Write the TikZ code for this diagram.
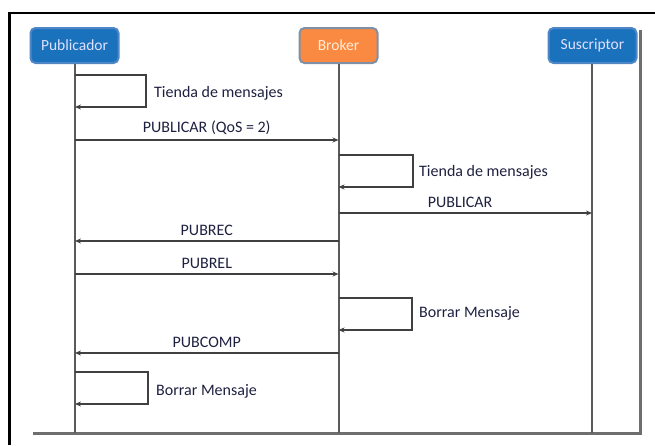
\documentclass[tikz,border=0pt]{standalone}
\usepackage{fontspec}
\setmainfont{Carlito}
\usetikzlibrary{arrows.meta}
\definecolor{bluefill}{HTML}{1B72BC}
\definecolor{blueedge}{HTML}{4F86C6}
\definecolor{orfill}{HTML}{FA8A42}
\definecolor{oredge}{HTML}{7F8FA6}
\definecolor{lblcol}{HTML}{1E2040}
\definecolor{lifecol}{HTML}{5A5A5A}
\definecolor{framegray}{HTML}{6E6E6E}
\tikzset{
  actor/.style={draw, line width=2pt, rounded corners=5pt, minimum width=88pt, minimum height=35pt, inner sep=2pt, font=\fontsize{15.5}{17}\selectfont},
  pubbox/.style={actor, fill=bluefill, draw=blueedge, text=white!88!blue},
  brokbox/.style={actor, fill=orfill, draw=oredge, minimum width=78pt, text=white!85!orange},
  lifeline/.style={draw=lifecol, line width=2pt},
  msg/.style={draw=black!75, line width=1.5pt, -{Stealth[length=6pt,width=5pt]}},
  lbl/.style={text=lblcol, font=\fontsize{16}{18}\selectfont, inner sep=1pt},
}
\begin{document}
\begin{tikzpicture}[x=1pt,y=-1pt]
\useasboundingbox (0,0) rectangle (655,445);
% outer frame
\draw[line width=2.5pt, black] (9.5,445) -- (9.5,13) -- (655,13);
% inner gray frame
\draw[framegray, line width=3pt] (33,433) -- (640,433) -- (640,30);
% actors
\node[pubbox] (pub) at (74.5,45.5) {Publicador};
\node[brokbox] (brk) at (338.5,45.5) {Broker};
\node[pubbox] (sus) at (592.5,45.5) {Suscriptor};
% lifeline ends
\coordinate (pubE) at (75,433);
\coordinate (brkE) at (338.5,433);
\coordinate (susE) at (592,433);
\draw[lifeline] (pub.south -| pubE) -- (pubE);
\draw[lifeline] (brk.south -| brkE) -- (brkE);
\draw[lifeline] (sus.south -| susE) -- (susE);
% message points
\coordinate (p1a) at (75,75);   \coordinate (p1b) at (75,107);
\coordinate (p2) at (75,140);   \coordinate (b2) at (338.5,140);
\coordinate (b3a) at (338.5,155); \coordinate (b3b) at (338.5,187);
\coordinate (b4) at (338.5,213); \coordinate (s4) at (592,213);
\coordinate (b5) at (338.5,241); \coordinate (p5) at (75,241);
\coordinate (p6) at (75,274);   \coordinate (b6) at (338.5,274);
\coordinate (b7a) at (338.5,298); \coordinate (b7b) at (338.5,330);
\coordinate (b8) at (338.5,353); \coordinate (p8) at (75,353);
\coordinate (p9a) at (75,372);  \coordinate (p9b) at (75,404);
% self loops
\draw[msg] (p1a) -- (146,75) -- (146,107) -- (p1b);
\node[lbl, anchor=west] (l1) at (153,93) {Tienda de mensajes};
\draw[msg] (b3a) -- (413,155) -- (413,187) -- (b3b);
\node[lbl, anchor=west] (l3) at (418,172) {Tienda de mensajes};
\draw[msg] (b7a) -- (412,298) -- (412,330) -- (b7b);
\node[lbl, anchor=west] (l7) at (418,313) {Borrar Mensaje};
\draw[msg] (p9a) -- (148,372) -- (148,404) -- (p9b);
\node[lbl, anchor=west] (l9) at (155,391) {Borrar Mensaje};
% messages
\draw[msg] (p2) -- (b2) node[lbl, pos=0.5, above=4pt] (l2) {PUBLICAR (QoS = 2)};
\draw[msg] (b4) -- (s4) node[lbl, pos=0.48, above=4pt] (l4) {PUBLICAR};
\draw[msg] (b5) -- (p5) node[lbl, pos=0.5, above=4pt] (l5) {PUBREC};
\draw[msg] (p6) -- (b6) node[lbl, pos=0.5, above=4pt] (l6) {PUBREL};
\draw[msg] (b8) -- (p8) node[lbl, pos=0.5, above=4pt] (l8) {PUBCOMP};
\end{tikzpicture}
\end{document}
